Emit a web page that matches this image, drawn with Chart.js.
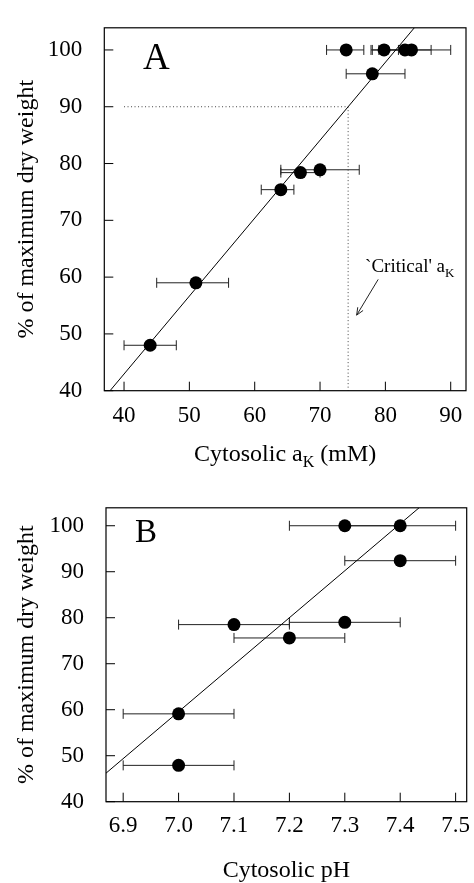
<!DOCTYPE html>
<html lang="en">
<head>
<meta charset="UTF-8" />
<title>Dry weight vs cytosolic aK and pH</title>
<script src="https://cdn.jsdelivr.net/npm/chart.js"></script>
<style>
    body { margin: 0; background: #fff; width: 474px; height: 883px; overflow: hidden; position: relative; }
    .panel { position: absolute; left: 0; width: 474px; }
    #panelA { top: 0; height: 480px; }
    #panelB { top: 480px; height: 403px; }
</style>
</head>
<body>
<div class="panel" id="panelA"><canvas id="chartA"></canvas></div>
<div class="panel" id="panelB"><canvas id="chartB"></canvas></div>

<script>
    const FONT = "'Liberation Serif', 'Times New Roman', serif";

    const yTicks = [40, 50, 60, 70, 80, 90, 100];
    const xTicksA = [40, 50, 60, 70, 80, 90];
    const xTicksB = [6.9, 7.0, 7.1, 7.2, 7.3, 7.4, 7.5];

    // panel A - cytosolic aK (mM)
    const aK = [74, 79.8, 83, 84, 78, 70, 67, 64, 51, 44];
    const aKWeight = [100, 100, 100, 100, 95.8, 78.9, 78.4, 75.4, 59, 48];
    const aKLow = [71, 77.8, 79, 78, 74, 64, 64, 61, 45, 40];
    const aKHigh = [76.7, 82, 87, 90, 83, 76, 70, 66, 56, 48];
    const fitAX = [37.86, 84.43];
    const fitAY = [40, 103.9];
    const criticalAK = 74.3;
    const criticalWeight = 90;

    // panel B - cytosolic pH
    const pH = [7.3, 7.4, 7.4, 7.1, 7.3, 7.2, 7.0, 7.0];
    const pHWeight = [100, 100, 92.4, 78.5, 79, 75.6, 59.1, 47.9];
    const pHLow = [7.2, 7.3, 7.3, 7.0, 7.2, 7.1, 6.9, 6.9];
    const pHHigh = [7.4, 7.5, 7.5, 7.2, 7.4, 7.3, 7.1, 7.1];
    const fitBX = [6.869, 7.434];
    const fitBY = [46.2, 103.9];

    // draws text pieces, some of them as subscripts
    function partsWidth(ctx, parts, size) {
        let w = 0;
        parts.forEach((p) => {
            ctx.font = (p.sub ? Math.round(size * 0.68) : size) + "px " + FONT;
            w += ctx.measureText(p.t).width;
        });
        return w;
    }

    function drawParts(ctx, parts, x, y, size) {
        ctx.textAlign = "left";
        ctx.textBaseline = "alphabetic";
        parts.forEach((p) => {
            const s = p.sub ? Math.round(size * 0.68) : size;
            ctx.font = s + "px " + FONT;
            ctx.fillText(p.t, x, y + (p.sub ? size * 0.26 : 0));
            x += ctx.measureText(p.t).width;
        });
    }

    function decor(o) {
        return {
            id: "decor",
            beforeDatasetsDraw(chart) {
                const ctx = chart.ctx;
                const xs = chart.scales.x, ys = chart.scales.y;
                ctx.save();
                ctx.strokeStyle = "#222";
                ctx.lineWidth = 1;
                o.low.forEach((lo, i) => {
                    const x1 = xs.getPixelForValue(lo);
                    const x2 = xs.getPixelForValue(o.high[i]);
                    const y = ys.getPixelForValue(o.ys[i]);
                    ctx.beginPath();
                    ctx.moveTo(x1, y); ctx.lineTo(x2, y);
                    ctx.moveTo(x1, y - 5); ctx.lineTo(x1, y + 5);
                    ctx.moveTo(x2, y - 5); ctx.lineTo(x2, y + 5);
                    ctx.stroke();
                });
                ctx.restore();
            },
            afterDraw(chart) {
                const ctx = chart.ctx;
                const a = chart.chartArea;
                const xs = chart.scales.x, ys = chart.scales.y;
                ctx.save();
                ctx.strokeStyle = "#000";
                ctx.lineWidth = 1.2;
                ctx.strokeRect(a.left, a.top, a.right - a.left, a.bottom - a.top);

                // inward tick marks
                ctx.lineWidth = 1;
                ctx.beginPath();
                o.xTicks.forEach((v) => {
                    const px = xs.getPixelForValue(v);
                    ctx.moveTo(px, a.bottom); ctx.lineTo(px, a.bottom - 9);
                });
                yTicks.forEach((v) => {
                    const py = ys.getPixelForValue(v);
                    ctx.moveTo(a.left, py); ctx.lineTo(a.left + 9, py);
                });
                ctx.stroke();

                ctx.fillStyle = "#000";
                // x title
                const tw = partsWidth(ctx, o.xTitle, 24);
                drawParts(ctx, o.xTitle, (a.left + a.right) / 2 - tw / 2, a.bottom + o.xTitleGap, 24);

                // y title
                ctx.save();
                ctx.translate(27, (a.top + a.bottom) / 2);
                ctx.rotate(-Math.PI / 2);
                ctx.font = "24px " + FONT;
                ctx.textAlign = "center";
                ctx.textBaseline = "middle";
                ctx.fillText("% of maximum dry weight", 0, 0);
                ctx.restore();

                // panel letter
                ctx.font = o.letterSize + "px " + FONT;
                ctx.textAlign = "left";
                ctx.textBaseline = "alphabetic";
                ctx.fillText(o.letter, o.letterX, a.top + o.letterY);

                if (o.note) {
                    const n = o.note;
                    drawParts(ctx, n.text, xs.getPixelForValue(n.x), ys.getPixelForValue(n.y), 19);
                    const x1 = xs.getPixelForValue(n.fromX), y1 = ys.getPixelForValue(n.fromY);
                    const x2 = xs.getPixelForValue(n.toX), y2 = ys.getPixelForValue(n.toY);
                    const ang = Math.atan2(y2 - y1, x2 - x1);
                    ctx.strokeStyle = "#222";
                    ctx.lineWidth = 1;
                    ctx.beginPath();
                    ctx.moveTo(x1, y1); ctx.lineTo(x2, y2);
                    ctx.moveTo(x2 - 8 * Math.cos(ang - 0.4), y2 - 8 * Math.sin(ang - 0.4));
                    ctx.lineTo(x2, y2);
                    ctx.lineTo(x2 - 8 * Math.cos(ang + 0.4), y2 - 8 * Math.sin(ang + 0.4));
                    ctx.stroke();
                }
                ctx.restore();
            },
        };
    }

    function buildChart(canvasId, o) {
        const points = o.xs.map((x, i) => ({ x: x, y: o.ys[i] }));
        const fit = o.fitX.map((x, i) => ({ x: x, y: o.fitY[i] }));
        const datasets = [
            { data: points, showLine: false, pointRadius: 6.5, pointBackgroundColor: "#000", pointBorderWidth: 0, order: 0 },
            { data: fit, showLine: true, borderColor: "#000", borderWidth: 1, pointRadius: 0, order: 1 },
        ];
        if (o.dotted) {
            datasets.push({ data: o.dotted, showLine: true, borderColor: "#444", borderWidth: 1, borderDash: [1, 2.5], pointRadius: 0, order: 2 });
        }
        const tickFont = { family: FONT, size: 23 };
        return new Chart(document.getElementById(canvasId), {
            type: "scatter",
            data: { datasets: datasets },
            options: {
                responsive: true,
                maintainAspectRatio: false,
                animation: false,
                events: [],
                layout: { padding: o.pad },
                plugins: { legend: { display: false }, tooltip: { enabled: false } },
                scales: {
                    x: {
                        type: "linear",
                        min: o.xMin,
                        max: o.xMax,
                        grid: { display: false },
                        border: { display: false },
                        afterBuildTicks: (s) => { s.ticks = o.xTicks.map((v) => ({ value: v })); },
                        afterFit: (s) => { s.height = o.xAxisHeight; },
                        ticks: { color: "#000", font: tickFont, padding: o.xTickPad, maxRotation: 0, callback: o.xFormat },
                    },
                    y: {
                        type: "linear",
                        min: 40,
                        max: 103.9,
                        grid: { display: false },
                        border: { display: false },
                        afterBuildTicks: (s) => { s.ticks = yTicks.map((v) => ({ value: v })); },
                        afterFit: (s) => { s.width = o.yAxisWidth; },
                        ticks: { color: "#000", font: tickFont, padding: 14 },
                    },
                },
            },
            plugins: [decor(o)],
        });
    }

    buildChart("chartA", {
        xs: aK, ys: aKWeight, low: aKLow, high: aKHigh,
        fitX: fitAX, fitY: fitAY,
        dotted: [
            { x: 40, y: criticalWeight },
            { x: criticalAK, y: criticalWeight },
            { x: criticalAK, y: 40 },
        ],
        xMin: 36.98, xMax: 92.34, xTicks: xTicksA,
        xFormat: (v) => String(v),
        xTickPad: 3,
        pad: { top: 11, right: 8, left: 0, bottom: 0 },
        yAxisWidth: 104.3, xAxisHeight: 89.3,
        xTitle: [{ t: "Cytosolic a" }, { t: "K", sub: true }, { t: " (mM)" }],
        xTitleGap: 70,
        letter: "A", letterSize: 37, letterX: 143, letterY: 41,
        note: {
            text: [{ t: "`Critical' a" }, { t: "K", sub: true }],
            x: 76.9, y: 60.9,
            fromX: 78.9, fromY: 59.6, toX: 75.6, toY: 53.3,
        },
    });

    buildChart("chartB", {
        xs: pH, ys: pHWeight, low: pHLow, high: pHHigh,
        fitX: fitBX, fitY: fitBY,
        xMin: 6.869, xMax: 7.52, xTicks: xTicksB,
        xFormat: (v) => v.toFixed(1),
        xTickPad: 2,
        pad: { top: 13.3, right: 7.3, left: 0, bottom: 0 },
        yAxisWidth: 106, xAxisHeight: 81.3,
        xTitle: [{ t: "Cytosolic pH" }],
        xTitleGap: 75,
        letter: "B", letterSize: 33, letterX: 135, letterY: 34,
    });
</script>
</body>
</html>
